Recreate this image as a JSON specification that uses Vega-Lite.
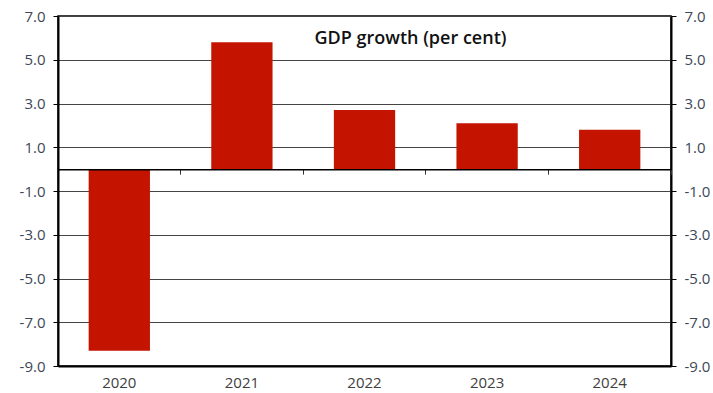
{
  "$schema": "https://vega.github.io/schema/vega-lite/v6.json",
  "width": 613,
  "height": 350,
  "autosize": "none",
  "padding": {"left": 58, "top": 16, "right": 42, "bottom": 27},
  "background": "white",
  "config": {
    "font": "Open Sans",
    "view": {"stroke": "black", "strokeWidth": 1.5}
  },
  "title": {
    "text": "GDP growth (per cent)",
    "anchor": "middle",
    "frame": "group",
    "dx": 46,
    "offset": -52.5,
    "baseline": "alphabetic",
    "font": "Open Sans",
    "fontSize": 18,
    "fontWeight": 600,
    "color": "#111111"
  },
  "data": {
    "values": [
      {"year": "2020", "growth": -8.3},
      {"year": "2021", "growth": 5.8},
      {"year": "2022", "growth": 2.7},
      {"year": "2023", "growth": 2.1},
      {"year": "2024", "growth": 1.8}
    ]
  },
  "layer": [
    {
      "mark": {"type": "bar", "color": "#C41400"},
      "encoding": {
        "x": {
          "field": "year",
          "type": "ordinal",
          "scale": {"paddingInner": 0.5, "paddingOuter": 0.25},
          "axis": {
            "title": null,
            "labelAngle": 0,
            "ticks": false,
            "domainColor": "black",
            "domainWidth": 2,
            "labelFont": "Open Sans",
            "labelFontSize": 15,
            "labelColor": "#404040",
            "labelPadding": 9
          }
        },
        "y": {
          "field": "growth",
          "type": "quantitative",
          "scale": {"domain": [-9, 7], "nice": false, "zero": false},
          "axis": {
            "title": null,
            "orient": "left",
            "values": [-9, -7, -5, -3, -1, 1, 3, 5, 7],
            "format": ".1f",
            "labelExpr": "replace(datum.label, '\u2212', '-')",
            "grid": true,
            "gridColor": "#444444",
            "gridWidth": 1,
            "domainColor": "black",
            "domainWidth": 2,
            "tickColor": "black",
            "tickSize": 5,
            "labelFont": "Open Sans",
            "labelFontSize": 15,
            "labelColor": "#3d4757",
            "labelPadding": 8
          }
        }
      }
    },
    {
      "mark": {"type": "bar", "opacity": 0},
      "encoding": {
        "x": {
          "field": "year",
          "type": "ordinal",
          "axis": {
            "title": null,
            "orient": "bottom",
            "offset": -196.875,
            "labels": false,
            "ticks": true,
            "bandPosition": 1.5,
            "tickSize": 5,
            "tickColor": "#333333",
            "domainColor": "black",
            "domainWidth": 1.5,
            "zindex": 1
          }
        },
        "y": {
          "field": "growth",
          "type": "quantitative",
          "axis": {
            "title": null,
            "orient": "right",
            "values": [-9, -7, -5, -3, -1, 1, 3, 5, 7],
            "format": ".1f",
            "labelExpr": "replace(datum.label, '\u2212', '-')",
            "grid": false,
            "domainColor": "black",
            "domainWidth": 2,
            "tickColor": "black",
            "tickSize": 5,
            "labelFont": "Open Sans",
            "labelFontSize": 15,
            "labelColor": "#3d4757",
            "labelPadding": 8
          }
        }
      }
    }
  ],
  "resolve": {"axis": {"x": "independent", "y": "independent"}}
}
